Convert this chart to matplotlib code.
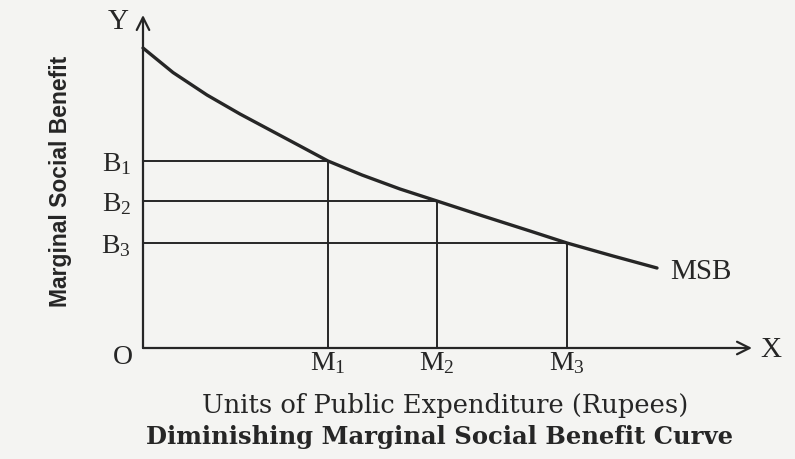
import matplotlib.pyplot as plt

# MSB curve (x: expenditure units, y: benefit units)
curve_x = [0, 3.0, 6.4, 9.7, 12.7, 15.7, 18.5, 21.9, 25.7, 29.4, 34.0, 38.7, 42.4, 47.0, 51.4]
curve_y = [30.0, 27.55, 25.3, 23.4, 21.8, 20.2, 18.7, 17.3, 15.9, 14.7, 13.2, 11.7, 10.5, 9.2, 8.0]

# marked points on the curve
m_vals = [18.5, 29.4, 42.4]
b_vals = [18.7, 14.7, 10.5]
m_labels = ['M$_1$', 'M$_2$', 'M$_3$']
b_labels = ['B$_1$', 'B$_2$', 'B$_3$']

x_end = 60.9
y_end = 33.3

plt.rcParams['font.family'] = ['Liberation Serif', 'DejaVu Serif']
plt.rcParams['mathtext.default'] = 'regular'

ink = '#262626'
bg = '#f4f4f2'
fig = plt.figure(figsize=(7.95, 4.59), dpi=100, facecolor=bg)
ax = fig.add_axes([0, 0, 1, 1])
ax.set_facecolor(bg)
ax.set_xlim(-14.3, 65.2)
ax.set_ylim(-11.1, 34.8)
ax.axis('off')

# axes with open arrow heads
arrow = dict(arrowstyle='->,head_length=0.9,head_width=0.45',
             color=ink, lw=1.6, shrinkA=0, shrinkB=0)
ax.annotate('', xy=(x_end, 0), xytext=(0, 0), arrowprops=arrow)
ax.annotate('', xy=(0, y_end), xytext=(0, 0), arrowprops=arrow)

# guide lines
for m, b in zip(m_vals, b_vals):
    ax.plot([0, m], [b, b], color=ink, lw=1.4, solid_capstyle='butt')
    ax.plot([m, m], [0, b], color=ink, lw=1.4, solid_capstyle='butt')

ax.plot(curve_x, curve_y, color=ink, lw=2.4, solid_capstyle='round',
        solid_joinstyle='round')

fs = 20
for m, lab in zip(m_vals, m_labels):
    ax.text(m, -2.2, lab, ha='center', va='baseline', fontsize=fs, color=ink)
for b, lab in zip(b_vals, b_labels):
    ax.text(-1.2, b - 1.0, lab, ha='right', va='baseline', fontsize=fs, color=ink)

ax.text(-2.5, 32.6, 'Y', ha='center', va='center', fontsize=21, color=ink)
ax.text(62.8, -0.2, 'X', ha='center', va='center', fontsize=21, color=ink)
ax.text(-2.0, -0.9, 'O', ha='center', va='center', fontsize=fs, color=ink)
ax.text(52.7, 7.6, 'MSB', ha='left', va='center', fontsize=21, color=ink)

ax.text(-8.2, 16.7, 'Marginal Social Benefit', rotation=90, ha='center', va='center',
        fontsize=16.5, fontweight='bold', color=ink,
        family=['Liberation Sans Narrow', 'Liberation Sans', 'DejaVu Sans'])
ax.text(30.2, -5.7, 'Units of Public Expenditure (Rupees)', ha='center', va='center',
        fontsize=18.5, color=ink, family=['DejaVu Serif'])
ax.text(29.7, -8.9, 'Diminishing Marginal Social Benefit Curve', ha='center', va='center',
        fontsize=17.5, fontweight='bold', color=ink, family=['DejaVu Serif'])

plt.savefig('out.png', dpi=100, facecolor=fig.get_facecolor())
